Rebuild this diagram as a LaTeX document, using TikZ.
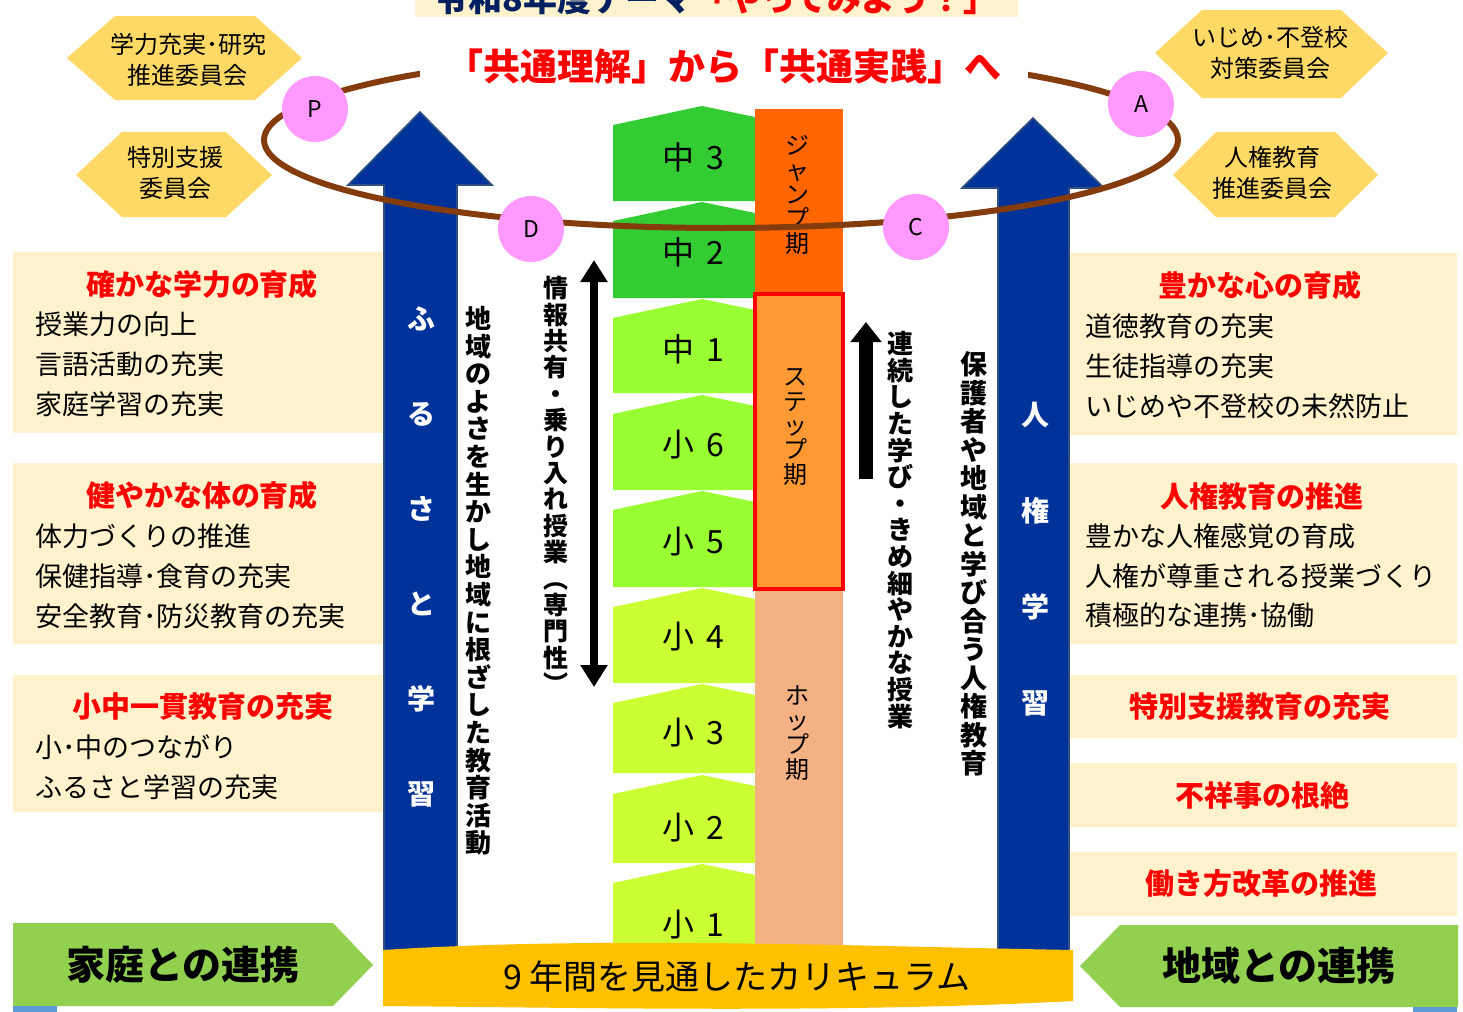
\documentclass[tikz,border=0pt]{standalone}
\usepackage{fontspec}
\setmainfont{Noto Sans CJK JP}
\usetikzlibrary{arrows.meta}
\definecolor{navy}{HTML}{003399}
\definecolor{navyline}{HTML}{2F4F7F}
\definecolor{brownring}{HTML}{843C0C}
\definecolor{pinkc}{HTML}{FF99FF}
\definecolor{hexy}{HTML}{FFD966}
\definecolor{beige}{HTML}{FFF2CC}
\definecolor{greenarr}{HTML}{92D050}
\definecolor{bannery}{HTML}{FFC000}
\definecolor{bluebit}{HTML}{5B9BD5}
\definecolor{gdark}{HTML}{33CC33}
\definecolor{glime}{HTML}{99FF33}
\definecolor{gyel}{HTML}{CCFF33}
\definecolor{jumpc}{HTML}{FF6600}
\definecolor{stepc}{HTML}{FF9933}
\definecolor{hopc}{HTML}{F4B183}
\definecolor{hdrnavy}{HTML}{002060}
\newcommand\fsz[2]{\fontsize{#1pt}{#2pt}\selectfont}
\begin{document}
\begin{tikzpicture}[x=0.5pt,y=-0.5pt,
  bodytxt/.style={anchor=west, inner sep=0pt, font=\fsz{13.5}{16}},
  ttltxt/.style={inner sep=0pt, text=red, font=\bfseries\fsz{14.5}{17}},
  vtxt/.style={align=center, inner sep=0pt, font=\bfseries\fsz{13}{13.8}},
  periodtxt/.style={align=center, inner sep=0pt, font=\fsz{12}{12.2}},
  hextxt/.style={align=center, inner sep=0pt, font=\fsz{12}{15.5}},
  gradelbl/.style={inner sep=0pt, font=\fsz{16}{16}},
  pdca/.style={circle, fill=pinkc, minimum size=33pt, inner sep=0pt, font=\fsz{11.5}{12}},
  bigarrow/.style={fill=navy, draw=navyline, line width=0.8pt},
  greenarrow/.style={fill=greenarr},
  hexshape/.style={fill=hexy},
  boxfill/.style={fill=beige},
  navytxt/.style={align=center, inner sep=0pt, text=white, font=\bfseries\fsz{14}{47.5}},
]
\useasboundingbox (0,0) rectangle (1463,1012);
\fill[white] (0,0) rectangle (1463,1012);

% header (cut off at the top edge, as in the reference)
\fill[beige] (415,0) rectangle (1018,17);
\node[inner sep=0pt, font=\bfseries\fsz{17}{17}] (hdr) at (716,-1) {\textcolor{hdrnavy}{令和8年度テーマ}\textcolor{red}{「やってみよう！」}};

% hexagons
\fill[hexshape] (67,58) -- (115,16) -- (255,16) -- (302,58) -- (255,100) -- (115,100) -- cycle;
\node[hextxt] (hex1) at (188,60) {学力充実･研究\\推進委員会};
\fill[hexshape] (76,175) -- (122,132) -- (226,132) -- (272,175) -- (226,217) -- (122,217) -- cycle;
\node[hextxt] (hex2) at (175,173) {特別支援\\委員会};
\fill[hexshape] (1155,53) -- (1202,10) -- (1341,10) -- (1388,53) -- (1341,98) -- (1202,98) -- cycle;
\node[hextxt] (hex3) at (1270,53) {いじめ･不登校\\対策委員会};
\fill[hexshape] (1173,175) -- (1216,132) -- (1335,132) -- (1378,175) -- (1335,217) -- (1216,217) -- cycle;
\node[hextxt] (hex4) at (1272,173) {人権教育\\推進委員会};

% left boxes
\fill[boxfill] (13,252) rectangle (383,433);
\node[ttltxt] (k1) at (202,284) {確かな学力の育成};
\node[bodytxt] (k1a) at (35,324) {授業力の向上};
\node[bodytxt] (k1b) at (35,364) {言語活動の充実};
\node[bodytxt] (k1c) at (35,404) {家庭学習の充実};
\fill[boxfill] (13,463) rectangle (383,644);
\node[ttltxt] (k2) at (202,495) {健やかな体の育成};
\node[bodytxt] (k2a) at (35,536) {体力づくりの推進};
\node[bodytxt] (k2b) at (35,576) {保健指導･食育の充実};
\node[bodytxt] (k2c) at (35,616) {安全教育･防災教育の充実};
\fill[boxfill] (13,675) rectangle (383,812);
\node[ttltxt] (k3) at (203,707) {小中一貫教育の充実};
\node[bodytxt] (k3a) at (35,747) {小･中のつながり};
\node[bodytxt] (k3b) at (35,787) {ふるさと学習の充実};

% right boxes
\fill[boxfill] (1070,253) rectangle (1457,435);
\node[ttltxt] (r1) at (1260,285) {豊かな心の育成};
\node[bodytxt] (r1a) at (1085,326) {道徳教育の充実};
\node[bodytxt] (r1b) at (1085,366) {生徒指導の充実};
\node[bodytxt] (r1c) at (1085,406) {いじめや不登校の未然防止};
\fill[boxfill] (1070,463) rectangle (1457,644);
\node[ttltxt] (r2) at (1262,496) {人権教育の推進};
\node[bodytxt] (r2a) at (1085,536) {豊かな人権感覚の育成};
\node[bodytxt] (r2b) at (1085,576) {人権が尊重される授業づくり};
\node[bodytxt] (r2c) at (1085,615) {積極的な連携･協働};
\fill[boxfill] (1070,675) rectangle (1457,738);
\node[ttltxt] (r3) at (1260,707) {特別支援教育の充実};
\fill[boxfill] (1070,763) rectangle (1457,827);
\node[ttltxt] (r4) at (1262,795) {不祥事の根絶};
\fill[boxfill] (1070,852) rectangle (1457,916);
\node[ttltxt] (r5) at (1261,884) {働き方改革の推進};

% navy arrows
\filldraw[bigarrow] (384,975) -- (384,185) -- (348,185) -- (420,112) -- (492,185) -- (457,185) -- (457,975) -- cycle;
\node[navytxt] (furusato) at (421,557) {ふ\\る\\さ\\と\\学\\習};
\filldraw[bigarrow] (998,975) -- (998,188) -- (962,188) -- (1033,118) -- (1104,188) -- (1069,188) -- (1069,975) -- cycle;
\node[navytxt, font=\bfseries\fsz{14}{48}] (jinken) at (1035,559) {人\\権\\学\\習};

% grade shapes
\newcommand\gradeshape[6]{%
  \fill[#3] (613,#1+19) -- (702,#1) -- (760,#1+12) -- (760,#2) -- (613,#2) -- cycle;
  \node[gradelbl] (#6) at (693,#5) {#4};}
\gradeshape{106}{201}{gdark}{中\hspace{6pt}3}{157}{g9}
\gradeshape{202}{298}{gdark}{中\hspace{6pt}2}{252}{g8}
\gradeshape{299}{393}{glime}{中\hspace{6pt}1}{349}{g7}
\gradeshape{395}{490}{glime}{小\hspace{6pt}6}{445}{g6}
\gradeshape{491}{587}{glime}{小\hspace{6pt}5}{542}{g5}
\gradeshape{588}{683}{gyel}{小\hspace{6pt}4}{637}{g4}
\gradeshape{684}{773}{gyel}{小\hspace{6pt}3}{733}{g3}
\gradeshape{775}{863}{gyel}{小\hspace{6pt}2}{828}{g2}
\gradeshape{864}{960}{gyel}{小\hspace{6pt}1}{925}{g1}

% period column
\fill[jumpc] (755,109) rectangle (843,293);
\fill[stepc] (755,293) rectangle (843,590);
\fill[hopc] (755,590) rectangle (843,960);
\draw[red, line width=2pt] (755,294) rectangle (843,589);
\node[periodtxt] (jump) at (797,195) {ジ\\ャ\\ン\\プ\\期};
\node[periodtxt] (stepp) at (795,427) {ス\\テ\\ッ\\プ\\期};
\node[periodtxt] (hop) at (797,733) {ホ\\ッ\\プ\\期};

% vertical texts and black arrows
\node[vtxt, font=\bfseries\fsz{13}{13.8}] (chiiki) at (478,581) {地\\域\\の\\よ\\さ\\を\\生\\か\\し\\地\\域\\に\\根\\ざ\\し\\た\\教\\育\\活\\動};
\node[vtxt, font=\bfseries\fsz{12.5}{13.2}] (joho) at (556,485) {情\\報\\共\\有\\・\\乗\\り\\入\\れ\\授\\業\\︵\\専\\門\\性\\︶};
\coordinate (da1) at (594,260);
\coordinate (da2) at (594,687);
\draw[line width=4pt, {Triangle[width=13pt,length=11pt]}-{Triangle[width=13pt,length=11pt]}] (da1) -- (da2);
\node[vtxt, font=\bfseries\fsz{13}{13.3}] (renzoku) at (900,530) {連\\続\\し\\た\\学\\び\\・\\き\\め\\細\\や\\か\\な\\授\\業};
\coordinate (ua1) at (866,479);
\coordinate (ua2) at (866,322);
\draw[line width=7pt, -{Triangle[width=15pt,length=10pt]}] (ua1) -- (ua2);
\node[vtxt, font=\bfseries\fsz{13.5}{14.25}] (hogosha) at (974,564) {保\\護\\者\\や\\地\\域\\と\\学\\び\\合\\う\\人\\権\\教\\育};

% brown ring
\draw[brownring, line width=3pt] (721,140) ellipse [x radius=228.5pt, y radius=44pt];
\node[fill=white, minimum width=304pt, minimum height=25pt, inner sep=0pt, text=red, font=\bfseries\fsz{18.5}{19}] (title) at (724,66) {「共通理解」から「共通実践」へ};

% PDCA circles
\node[pdca] (P) at (315,109) {P};
\node[pdca] (A) at (1141,104) {A};
\node[pdca] (C) at (916,227) {C};
\node[pdca] (D) at (531,229) {D};

% curriculum banner
\fill[bannery] (383,950) .. controls (600,936) and (850,946) .. (1073,950) -- (1073,1001) .. controls (850,1013) and (600,1008) .. (383,1006) -- cycle;
\node[inner sep=0pt, font=\fsz{17}{17}] (curr) at (737,977) {9 年間を見通したカリキュラム};

% green arrows
\fill[greenarrow] (13,923) -- (333,923) -- (373,965) -- (333,1006) -- (13,1006) -- cycle;
\node[inner sep=0pt, font=\bfseries\fsz{19.5}{20}] (katei) at (183,965) {家庭との連携};
\fill[greenarrow] (1458,925) -- (1120,925) -- (1080,966) -- (1120,1007) -- (1458,1007) -- cycle;
\node[inner sep=0pt, font=\bfseries\fsz{19.5}{20}] (chiikirenkei) at (1279,966) {地域との連携};

% blue bits
\fill[bluebit] (13,1006) rectangle (57,1012);
\fill[bluebit] (1413,1007) rectangle (1457,1012);
\end{tikzpicture}
\end{document}
